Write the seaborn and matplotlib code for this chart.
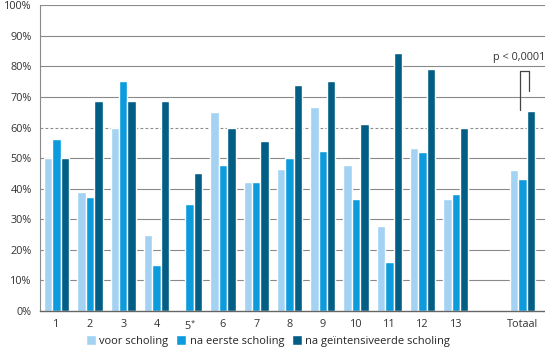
import numpy as np
import pandas as pd
import matplotlib
matplotlib.use("Agg")
import matplotlib.pyplot as plt
import seaborn as sns

# Categories (blank slot separates the items from the total)
categories = ["1", "2", "3", "4", "5$^{*}$", "6", "7", "8", "9", "10", "11", "12", "13", "", "Totaal"]
series_names = ["voor scholing", "na eerste scholing", "na geïntensiveerde scholing"]

voor = [50, 38.8, 60, 25, np.nan, 65, 42.2, 46.6, 66.7, 47.6, 27.8, 53.4, 36.6, np.nan, 46.0]
na_eerste = [56.4, 37.3, 75.1, 15.2, 34.9, 47.8, 42.2, 50.0, 52.2, 36.7, 15.9, 52.1, 38.2, np.nan, 43.1]
na_geint = [50, 68.7, 68.7, 68.7, 45.0, 59.9, 55.7, 73.8, 75.2, 61.2, 84.3, 79.0, 59.9, np.nan, 65.4]

y_ticks = [0, 10, 20, 30, 40, 50, 60, 70, 80, 90, 100]
reference_level = 60
p_label = "p < 0,0001"

colors = ["#a3d2f2", "#0c9bdc", "#035e85"]

rows = []
for name, vals in zip(series_names, [voor, na_eerste, na_geint]):
    for cat, v in zip(categories, vals):
        rows.append({"categorie": cat, "reeks": name, "waarde": v})
df = pd.DataFrame(rows)

sns.set_style("white")
plt.rcParams["font.family"] = ["Open Sans", "DejaVu Sans"]
plt.rcParams["mathtext.fontset"] = "custom"
plt.rcParams["mathtext.rm"] = "Open Sans"
plt.rcParams["mathtext.it"] = "Open Sans"

fig = plt.figure(figsize=(5.45, 3.5), dpi=100)
ax = fig.add_axes([40 / 545, 1 - 311 / 350, 1 - 40 / 545, (311 - 5.3) / 350])

# Grid lines behind the bars
for t in y_ticks[1:]:
    if t == reference_level:
        continue
    ax.axhline(t, color="#8a8a8a", lw=0.8, zorder=0)
ax.axhline(reference_level, color="#8a8a8a", lw=0.8, ls=(0, (2.5, 2)), zorder=0)

sns.barplot(data=df, x="categorie", y="waarde", hue="reeks", order=categories,
            hue_order=series_names, palette=colors, width=0.76, saturation=1,
            errorbar=None, ax=ax, zorder=2, legend=True)

ax.set_xlim(-0.5, 14.68)
ax.set_ylim(0, 100)
ax.set_yticks(y_ticks)
ax.set_yticklabels([f"{t}%" for t in y_ticks])
ax.set_xlabel("")
ax.set_ylabel("")
ax.tick_params(axis="both", length=0, labelsize=7.8, colors="#333333")
ax.tick_params(axis="x", pad=6)
ax.tick_params(axis="y", pad=6)

for side in ["top", "right"]:
    ax.spines[side].set_visible(False)
ax.spines["left"].set_color("#8a8a8a")
ax.spines["left"].set_linewidth(0.8)
ax.spines["bottom"].set_color("#666666")
ax.spines["bottom"].set_linewidth(1.0)

# Significance bracket on the total group
tot = categories.index("Totaal")
bx0, bx1 = tot - 0.06, tot + 0.21
ax.plot([bx0, bx0, bx1, bx1], [65.7, 78.4, 78.4, 71.9], color="#444444", lw=0.9, zorder=3)
ax.text(14.68, 83, p_label, ha="right", va="center", fontsize=7.8, color="#333333")

# Legend below the plot
handles, labels = ax.get_legend_handles_labels()
ax.legend(handles, labels, loc="center", bbox_to_anchor=(268 / 545, 9 / 350),
          bbox_transform=fig.transFigure, ncol=3, frameon=False, fontsize=8,
          handlelength=0.9, handleheight=0.9, handletextpad=0.3, columnspacing=0.7)

fig.savefig("out.png", dpi=100)
